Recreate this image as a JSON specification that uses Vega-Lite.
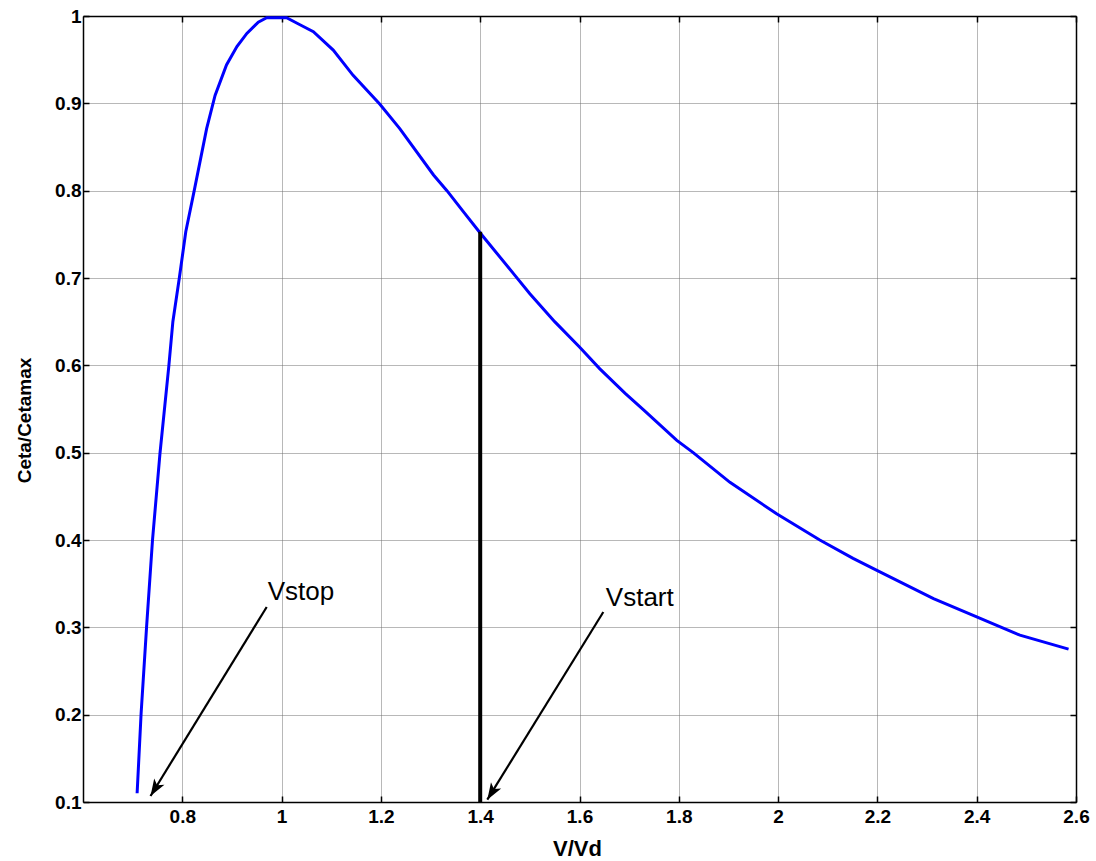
{
  "$schema": "https://vega.github.io/schema/vega-lite/v6.json",
  "width": 993,
  "height": 786,
  "autosize": {"type": "none"},
  "padding": {"left": 83, "top": 16, "right": 20, "bottom": 59},
  "background": "white",
  "config": {
    "view": {"stroke": null},
    "font": "Liberation Sans"
  },
  "datasets": {
    "curve": [
      {"V": 0.709, "C": 0.110}, {"V": 0.717, "C": 0.201}, {"V": 0.728, "C": 0.300},
      {"V": 0.740, "C": 0.400}, {"V": 0.755, "C": 0.499},
      {"V": 0.773, "C": 0.600}, {"V": 0.781, "C": 0.650}, {"V": 0.794, "C": 0.700},
      {"V": 0.807, "C": 0.753}, {"V": 0.824, "C": 0.800}, {"V": 0.849, "C": 0.871},
      {"V": 0.866, "C": 0.909}, {"V": 0.889, "C": 0.944}, {"V": 0.910, "C": 0.965},
      {"V": 0.930, "C": 0.980}, {"V": 0.953, "C": 0.993}, {"V": 0.970, "C": 0.998},
      {"V": 1.010, "C": 0.998}, {"V": 1.037, "C": 0.990}, {"V": 1.064, "C": 0.982},
      {"V": 1.104, "C": 0.961}, {"V": 1.144, "C": 0.932}, {"V": 1.198, "C": 0.899},
      {"V": 1.238, "C": 0.871}, {"V": 1.306, "C": 0.818}, {"V": 1.333, "C": 0.800},
      {"V": 1.366, "C": 0.776}, {"V": 1.398, "C": 0.753}, {"V": 1.467, "C": 0.705},
      {"V": 1.500, "C": 0.682}, {"V": 1.550, "C": 0.650}, {"V": 1.600, "C": 0.621},
      {"V": 1.641, "C": 0.596}, {"V": 1.692, "C": 0.568}, {"V": 1.729, "C": 0.549},
      {"V": 1.796, "C": 0.514}, {"V": 1.829, "C": 0.500}, {"V": 1.903, "C": 0.466},
      {"V": 1.997, "C": 0.430}, {"V": 2.084, "C": 0.400}, {"V": 2.151, "C": 0.379},
      {"V": 2.200, "C": 0.365}, {"V": 2.313, "C": 0.333}, {"V": 2.400, "C": 0.312},
      {"V": 2.487, "C": 0.291}, {"V": 2.585, "C": 0.275}
    ],
    "vline": [{"V": 1.4, "C0": 0.1, "C1": 0.753}],
    "arrows": [
      {"name": "Vstop", "V0": 0.970, "C0": 0.3233, "V1": 0.736, "C1": 0.1069, "TV": 0.972, "TC": 0.331},
      {"name": "Vstart", "V0": 1.648, "C0": 0.3176, "V1": 1.4143, "C1": 0.1027, "TV": 1.653, "TC": 0.3244}
    ]
  },
  "resolve": {"axis": {"x": "independent", "y": "independent"}},
  "layer": [
    {
      "data": {"name": "curve"},
      "mark": {"type": "line", "color": "#0000ff", "strokeWidth": 3, "clip": true},
      "encoding": {
        "x": {
          "field": "V", "type": "quantitative",
          "scale": {"domain": [0.6, 2.6], "nice": false, "zero": false},
          "axis": {
            "orient": "bottom",
            "values": [0.8, 1, 1.2, 1.4, 1.6, 1.8, 2, 2.2, 2.4, 2.6],
            "format": "~g",
            "title": "V/Vd",
            "grid": true, "gridDash": [1, 1], "gridColor": "#707070", "gridOpacity": 1, "gridWidth": 1,
            "tickSize": -6, "tickColor": "black", "tickWidth": 1.5,
            "domainColor": "black", "domainWidth": 1.5,
            "labelFont": "Liberation Sans", "labelFontWeight": "bold", "labelFontSize": 19,
            "labelColor": "black", "labelPadding": 11, "labelFlush": false, "labelOverlap": false,
            "titleFont": "Liberation Sans", "titleFontWeight": "bold", "titleFontSize": 22,
            "titleColor": "black", "titleX": 494, "titleY": 53, "titleBaseline": "alphabetic",
            "titleAlign": "center"
          }
        },
        "y": {
          "field": "C", "type": "quantitative",
          "scale": {"domain": [0.1, 1], "nice": false, "zero": false},
          "axis": {
            "orient": "left",
            "values": [0.1, 0.2, 0.3, 0.4, 0.5, 0.6, 0.7, 0.8, 0.9, 1],
            "format": "~g",
            "title": "Ceta/Cetamax",
            "grid": true, "gridDash": [1, 1], "gridColor": "#707070", "gridOpacity": 1, "gridWidth": 1,
            "tickSize": -6, "tickColor": "black", "tickWidth": 1.5,
            "domainColor": "black", "domainWidth": 1.5,
            "labelFont": "Liberation Sans", "labelFontWeight": "bold", "labelFontSize": 19,
            "labelColor": "black", "labelPadding": 8, "labelFlush": false, "labelOverlap": false,
            "titleFont": "Liberation Sans", "titleFontWeight": "bold", "titleFontSize": 19,
            "titleColor": "black", "titleX": -53, "titleY": 404, "titleBaseline": "alphabetic",
            "titleAlign": "center", "titleAngle": -90
          }
        }
      }
    },
    {
      "data": {"name": "vline"},
      "mark": {"type": "rule", "color": "black", "strokeWidth": 4},
      "encoding": {
        "x": {
          "field": "V", "type": "quantitative",
          "axis": {
            "orient": "top", "values": [0.8, 1, 1.2, 1.4, 1.6, 1.8, 2, 2.2, 2.4, 2.6],
            "labels": false, "title": null, "grid": false,
            "tickSize": -6, "tickColor": "black", "tickWidth": 1.5,
            "domainColor": "black", "domainWidth": 1.5
          }
        },
        "y": {
          "field": "C0", "type": "quantitative",
          "axis": {
            "orient": "right", "values": [0.1, 0.2, 0.3, 0.4, 0.5, 0.6, 0.7, 0.8, 0.9, 1],
            "labels": false, "title": null, "grid": false,
            "tickSize": -6, "tickColor": "black", "tickWidth": 1.5,
            "domainColor": "black", "domainWidth": 1.5
          }
        },
        "y2": {"field": "C1"}
      }
    },
    {
      "data": {"name": "arrows"},
      "mark": {"type": "rule", "color": "black", "strokeWidth": 2.2},
      "encoding": {
        "x": {"field": "V0", "type": "quantitative", "axis": null},
        "y": {"field": "C0", "type": "quantitative", "axis": null},
        "x2": {"field": "V1"},
        "y2": {"field": "C1"}
      }
    },
    {
      "data": {"name": "arrows"},
      "mark": {
        "type": "point", "shape": "M0,0L-0.5,1.4L0,1.05L0.5,1.4Z",
        "size": 576, "filled": true, "color": "black", "opacity": 1, "angle": 211.6
      },
      "encoding": {
        "x": {"field": "V1", "type": "quantitative", "axis": null},
        "y": {"field": "C1", "type": "quantitative", "axis": null}
      }
    },
    {
      "data": {"name": "arrows"},
      "mark": {
        "type": "text", "align": "left", "baseline": "alphabetic",
        "font": "Liberation Sans", "fontSize": 26, "color": "black"
      },
      "encoding": {
        "x": {"field": "TV", "type": "quantitative", "axis": null},
        "y": {"field": "TC", "type": "quantitative", "axis": null},
        "text": {"field": "name"}
      }
    }
  ]
}
